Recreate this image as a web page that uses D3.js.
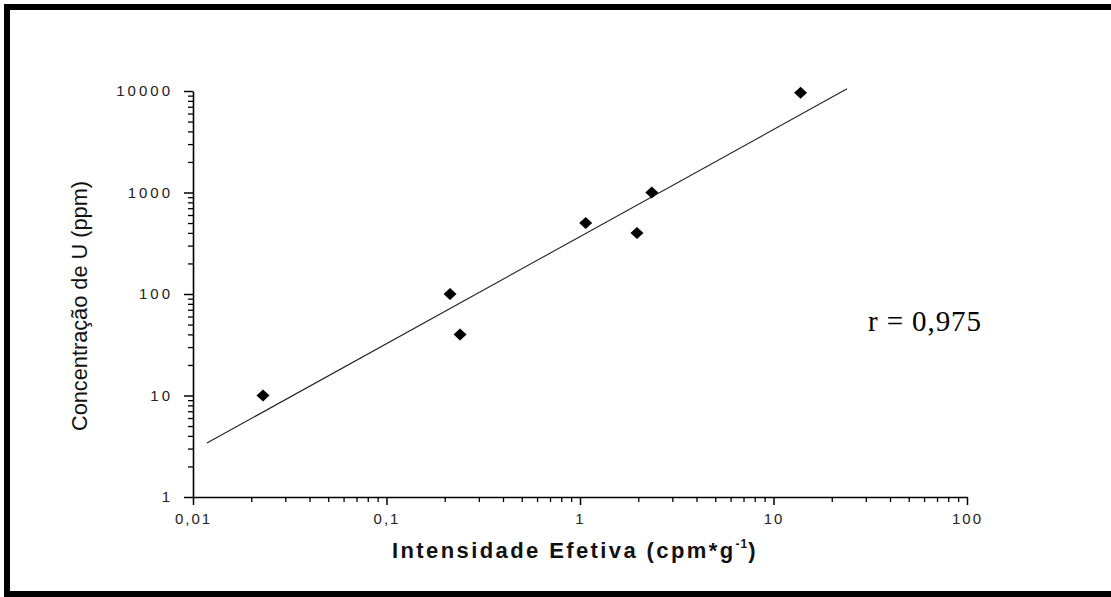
<!DOCTYPE html>
<html>
<head>
<meta charset="utf-8">
<script src="https://cdn.jsdelivr.net/npm/d3@7"></script>
<style>
  body { margin: 0; background: #fff; overflow: hidden; }
  svg { display: block; }
</style>
</head>
<body>
<svg id="chart"></svg>
<script>
// data
const intensity = [0.023, 0.213, 0.24, 1.07, 1.97, 2.35, 13.8];
const concentration = [10, 100, 40, 500, 400, 1000, 9600];
// ends of the fitted line
const fitX = [0.0118, 24];
const fitY = [3.4, 10500];
const xTicks = [0.01, 0.1, 1, 10, 100];
const xTickLabels = ["0,01", "0,1", "1", "10", "100"];
const yTicks = [1, 10, 100, 1000, 10000];
const yTickLabels = ["1", "10", "100", "1000", "10000"];

const width = 1111, height = 597;
const svg = d3.select("#chart").attr("width", width).attr("height", height);

svg.append("rect").attr("width", width).attr("height", height).attr("fill", "#fff");

// thick frame (right side falls outside the picture)
svg.append("rect")
  .attr("x", 7).attr("y", 7)
  .attr("width", 1120).attr("height", 587)
  .attr("fill", "none")
  .attr("stroke", "#000")
  .attr("stroke-width", 6);

const x = d3.scaleLog().domain([0.01, 100]).range([193, 967]);
const y = d3.scaleLog().domain([1, 10000]).range([497, 91]);

// minor ticks (2..9 in each decade)
const minor = [];
for (let d = 0.01; d < 100; d *= 10) for (let k = 2; k <= 9; k++) minor.push(+(d * k).toPrecision(3));
const minorY = [];
for (let d = 1; d < 10000; d *= 10) for (let k = 2; k <= 9; k++) minorY.push(d * k);

const font = "'Liberation Sans', Arial, sans-serif";

// x axis
svg.append("g")
  .attr("transform", "translate(0,497)")
  .call(d3.axisBottom(x).tickValues(minor).tickSize(5).tickFormat(""))
  .call(g => g.select(".domain").remove())
  .call(g => g.selectAll("line").attr("stroke", "#000").attr("stroke-width", 1.3));

svg.append("g")
  .attr("transform", "translate(0,497)")
  .call(d3.axisBottom(x).tickValues(xTicks).tickSize(8).tickSizeOuter(0).tickPadding(8)
    .tickFormat((d, i) => xTickLabels[i]))
  .call(g => g.select(".domain").attr("stroke", "#000").attr("stroke-width", 1.6))
  .call(g => g.selectAll("line").attr("stroke", "#000").attr("stroke-width", 1.5))
  .call(g => g.selectAll("text")
    .attr("font-family", font).attr("font-size", 15).attr("fill", "#222")
    .attr("letter-spacing", 2));

// y axis
svg.append("g")
  .attr("transform", "translate(193,0)")
  .call(d3.axisLeft(y).tickValues(minorY).tickSize(5).tickFormat(""))
  .call(g => g.select(".domain").remove())
  .call(g => g.selectAll("line").attr("stroke", "#000").attr("stroke-width", 1.3));

svg.append("g")
  .attr("transform", "translate(193,0)")
  .call(d3.axisLeft(y).tickValues(yTicks).tickSize(9).tickSizeOuter(0).tickPadding(11)
    .tickFormat((d, i) => yTickLabels[i]))
  .call(g => g.select(".domain").attr("stroke", "#000").attr("stroke-width", 1.6))
  .call(g => g.selectAll("line").attr("stroke", "#000").attr("stroke-width", 1.5))
  .call(g => g.selectAll("text")
    .attr("font-family", font).attr("font-size", 15).attr("fill", "#222")
    .attr("letter-spacing", 3));

// fitted line
svg.append("path")
  .datum(fitX.map((v, i) => [v, fitY[i]]))
  .attr("d", d3.line().x(d => x(d[0])).y(d => y(d[1])))
  .attr("fill", "none")
  .attr("stroke", "#222")
  .attr("stroke-width", 1.1);

// diamonds
svg.selectAll(".pt")
  .data(intensity.map((v, i) => [v, concentration[i]]))
  .enter()
  .append("path")
  .attr("class", "pt")
  .attr("d", d => {
    const cx = x(d[0]), cy = y(d[1]);
    return `M${cx - 6.5},${cy} L${cx},${cy - 6} L${cx + 6.5},${cy} L${cx},${cy + 6} Z`;
  })
  .attr("fill", "#000");

// axis titles
const xt = svg.append("text")
  .attr("x", 575).attr("y", 558)
  .attr("text-anchor", "middle")
  .attr("font-family", font).attr("font-weight", "bold")
  .attr("font-size", 22).attr("letter-spacing", 2.4)
  .attr("fill", "#111");
xt.append("tspan").text("Intensidade Efetiva (cpm*g");
xt.append("tspan").attr("font-size", 12).attr("dy", -10).attr("letter-spacing", 1).text("-1");
xt.append("tspan").attr("dy", 10).text(")");

svg.append("text")
  .attr("transform", "translate(87,306) rotate(-90)")
  .attr("text-anchor", "middle")
  .attr("font-family", font)
  .attr("font-size", 22)
  .attr("textLength", 250)
  .attr("lengthAdjust", "spacingAndGlyphs")
  .attr("fill", "#111")
  .text("Concentração de U (ppm)");

// correlation label
svg.append("text")
  .attr("x", 868).attr("y", 331)
  .attr("font-family", "'Liberation Serif', 'Times New Roman', serif")
  .attr("font-size", 29)
  .attr("letter-spacing", 0.9)
  .attr("fill", "#000")
  .text("r = 0,975");
</script>
</body>
</html>
